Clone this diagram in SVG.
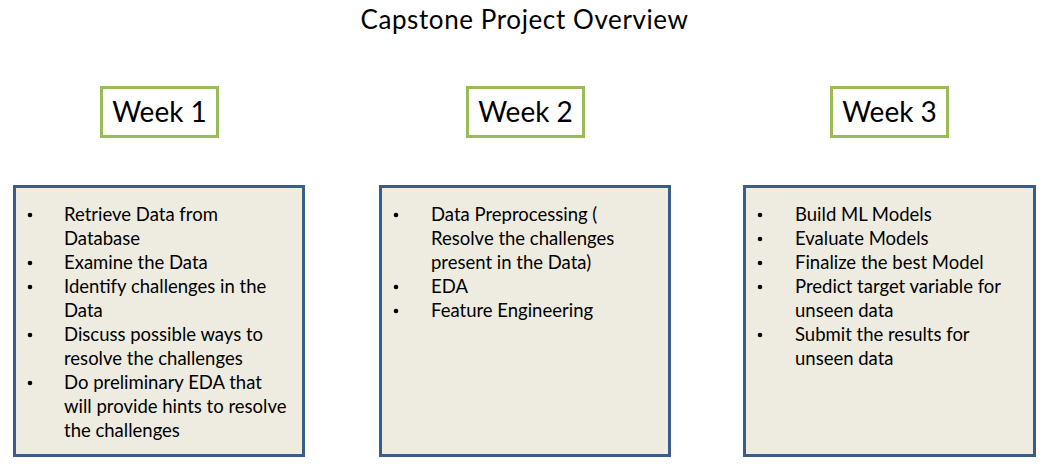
<svg xmlns="http://www.w3.org/2000/svg" width="1049" height="469" viewBox="0 0 1049 469">
<style>
text { font-family: Lato, "Open Sans", "Liberation Sans", sans-serif; fill: #000; }
.title { font-size: 26px; letter-spacing: 0.6px; text-anchor: middle; }
.week rect { fill: #fff; stroke: #9BBB59; stroke-width: 3; }
.week text { font-size: 28px; text-anchor: middle; }
.content rect { fill: #EEECE1; stroke: #385D8A; stroke-width: 3; }
.content text { font-size: 18.5px; }
.bullet { fill: #000; }
</style>
<rect width="1049" height="469" fill="#fff"/>
<text class="title" x="524.5" y="29">Capstone Project Overview</text>

<g id="week1" class="week">
  <rect x="101.5" y="87.5" width="116" height="49"/>
  <text x="159.5" y="122">Week 1</text>
</g>
<g id="week2" class="week">
  <rect x="467.5" y="87.5" width="116" height="49"/>
  <text x="525.5" y="122">Week 2</text>
</g>
<g id="week3" class="week">
  <rect x="831.5" y="87.5" width="116" height="49"/>
  <text x="889.5" y="122">Week 3</text>
</g>

<g id="content1" class="content">
  <rect x="14.5" y="186.5" width="289" height="269"/>
  <circle class="bullet" cx="30" cy="215" r="2.3"/>
  <circle class="bullet" cx="30" cy="263" r="2.3"/>
  <circle class="bullet" cx="30" cy="287" r="2.3"/>
  <circle class="bullet" cx="30" cy="335" r="2.3"/>
  <circle class="bullet" cx="30" cy="383" r="2.3"/>
  <text x="64" y="221">Retrieve Data from</text>
  <text x="64" y="245">Database</text>
  <text x="64" y="269">Examine the Data</text>
  <text x="64" y="293">Identify challenges in the</text>
  <text x="64" y="317">Data</text>
  <text x="64" y="341">Discuss possible ways to</text>
  <text x="64" y="365">resolve the challenges</text>
  <text x="64" y="389">Do preliminary EDA that</text>
  <text x="64" y="413">will provide hints to resolve</text>
  <text x="64" y="437">the challenges</text>
</g>

<g id="content2" class="content">
  <rect x="380.5" y="186.5" width="289" height="269"/>
  <circle class="bullet" cx="396" cy="215" r="2.3"/>
  <circle class="bullet" cx="396" cy="287" r="2.3"/>
  <circle class="bullet" cx="396" cy="311" r="2.3"/>
  <text x="431" y="221">Data Preprocessing (</text>
  <text x="431" y="245">Resolve the challenges</text>
  <text x="431" y="269">present in the Data)</text>
  <text x="431" y="293">EDA</text>
  <text x="431" y="317">Feature Engineering</text>
</g>

<g id="content3" class="content">
  <rect x="744.5" y="186.5" width="290" height="269"/>
  <circle class="bullet" cx="760" cy="215" r="2.3"/>
  <circle class="bullet" cx="760" cy="239" r="2.3"/>
  <circle class="bullet" cx="760" cy="263" r="2.3"/>
  <circle class="bullet" cx="760" cy="287" r="2.3"/>
  <circle class="bullet" cx="760" cy="335" r="2.3"/>
  <text x="795" y="221">Build ML Models</text>
  <text x="795" y="245">Evaluate Models</text>
  <text x="795" y="269">Finalize the best Model</text>
  <text x="795" y="293">Predict target variable for</text>
  <text x="795" y="317">unseen data</text>
  <text x="795" y="341">Submit the results for</text>
  <text x="795" y="365">unseen data</text>
</g>

<g id="connectors"></g>
</svg>
